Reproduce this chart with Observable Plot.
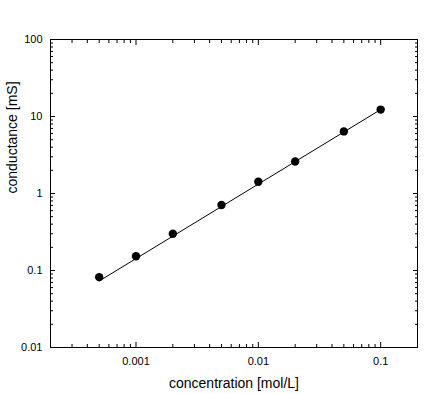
<!DOCTYPE html>
<html>
<head>
<meta charset="utf-8">
<script src="https://cdn.jsdelivr.net/npm/d3@7"></script>
<script src="https://cdn.jsdelivr.net/npm/@observablehq/plot@0.6"></script>
<style>
  html, body { margin: 0; padding: 0; background: #fff; }
  svg { font-family: "Liberation Sans", Arial, sans-serif; }
</style>
</head>
<body>
<div id="chart"></div>
<script>
// Data
const concentration = [0.0005, 0.001, 0.002, 0.005, 0.01, 0.02, 0.05, 0.1];
const conductance   = [0.082, 0.153, 0.30, 0.71, 1.42, 2.6, 6.4, 12.3];
// fitted line endpoints
const fitX = [0.0005, 0.1];
const fitY = [0.073, 12.3];

const xMajor = [0.001, 0.01, 0.1];
const xTickLabels = ["0.001", "0.01", "0.1"];
const yMajor = [0.01, 0.1, 1, 10, 100];
const yTickLabels = ["0.01", "0.1", "1", "10", "100"];
const xMinor = [0.0003, 0.0004, 0.0005, 0.0006, 0.0007, 0.0008, 0.0009,
                0.002, 0.003, 0.004, 0.005, 0.006, 0.007, 0.008, 0.009,
                0.02, 0.03, 0.04, 0.05, 0.06, 0.07, 0.08, 0.09];
const yMinor = [0.02, 0.03, 0.04, 0.05, 0.06, 0.07, 0.08, 0.09,
                0.2, 0.3, 0.4, 0.5, 0.6, 0.7, 0.8, 0.9,
                2, 3, 4, 5, 6, 7, 8, 9,
                20, 30, 40, 50, 60, 70, 80, 90];
const xTitle = "concentration [mol/L]";
const yTitle = "conductance [mS]";

const points = concentration.map((c, i) => ({c, g: conductance[i]}));
const fit = fitX.map((c, i) => ({c, g: fitY[i]}));
const fmtX = d => xTickLabels[xMajor.indexOf(d)];
const fmtY = d => yTickLabels[yMajor.indexOf(d)];

const chart = Plot.plot({
  width: 436,
  height: 394,
  marginLeft: 50,
  marginTop: 39,
  marginRight: 19,
  marginBottom: 47,
  style: {fontFamily: "'Liberation Sans', Arial, sans-serif", fontSize: "11px", color: "#000", background: "#fff"},
  x: {type: "log", domain: [0.0002, 0.2]},
  y: {type: "log", domain: [0.01, 100]},
  marks: [
    Plot.frame({stroke: "#000", strokeWidth: 1}),
    // tick labels
    Plot.axisX(xMajor, {anchor: "bottom", tickSize: 0, tickPadding: 10, tickFormat: fmtX, fontSize: 11, label: null}),
    Plot.axisY(yMajor, {anchor: "left", tickSize: 0, tickPadding: 8, tickFormat: fmtY, fontSize: 11, label: null}),
    // axis titles
    Plot.text([xTitle], {frameAnchor: "bottom", lineAnchor: "middle", dy: 36, fontSize: 14, fill: "#000"}),
    Plot.text([yTitle], {frameAnchor: "left", lineAnchor: "middle", rotate: -90, dx: -38, fontSize: 14, fill: "#000"}),
    // major ticks inward, all four sides
    Plot.axisX(xMajor, {anchor: "bottom", tickSize: -5, text: null, label: null}),
    Plot.axisX(xMajor, {anchor: "top", tickSize: -5, text: null, label: null}),
    Plot.axisY(yMajor, {anchor: "left", tickSize: -5, text: null, label: null}),
    Plot.axisY(yMajor, {anchor: "right", tickSize: -5, text: null, label: null}),
    // minor ticks inward
    Plot.axisX(xMinor, {anchor: "bottom", tickSize: -3, text: null, label: null}),
    Plot.axisX(xMinor, {anchor: "top", tickSize: -3, text: null, label: null}),
    Plot.axisY(yMinor, {anchor: "left", tickSize: -3, text: null, label: null}),
    Plot.axisY(yMinor, {anchor: "right", tickSize: -3, text: null, label: null}),
    Plot.line(fit, {x: "c", y: "g", stroke: "#000", strokeWidth: 1}),
    Plot.dot(points, {x: "c", y: "g", r: 4.2, fill: "#000", stroke: "none"})
  ]
});
document.getElementById("chart").appendChild(chart);
</script>
</body>
</html>
